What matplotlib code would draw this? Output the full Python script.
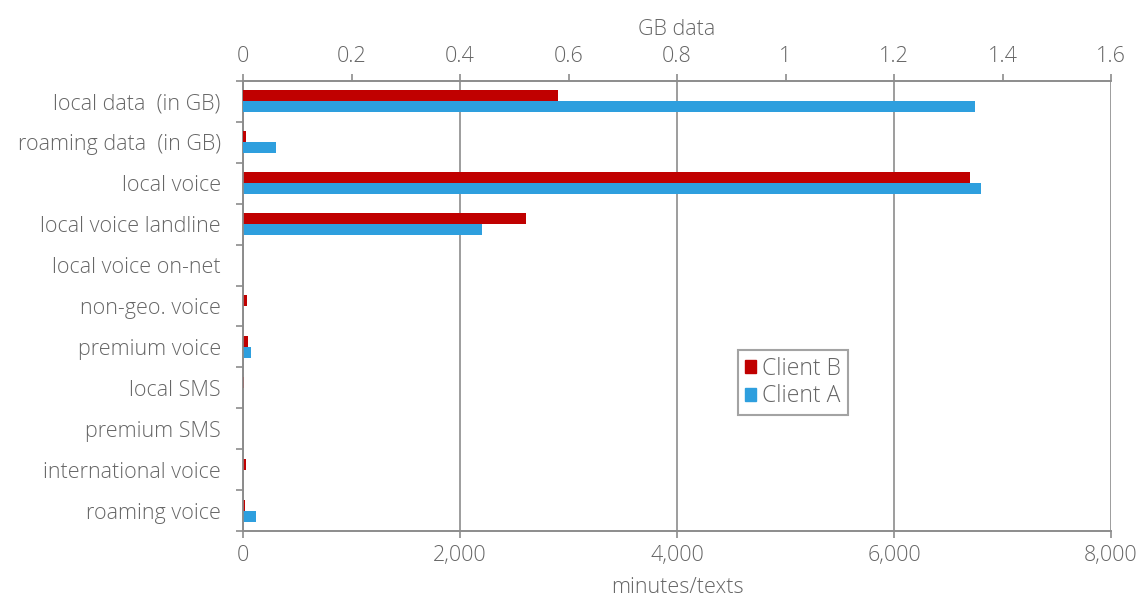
import matplotlib.pyplot as plt
import numpy as np
from matplotlib.ticker import FuncFormatter
from matplotlib.patches import Patch

plt.rcParams['font.family'] = ['Open Sans', 'DejaVu Sans']
plt.rcParams['font.weight'] = 'light'
plt.rcParams['axes.labelweight'] = 'light'

categories = ["local data  (in GB)", "roaming data  (in GB)", "local voice",
              "local voice landline", "local voice on-net", "non-geo. voice",
              "premium voice", "local SMS", "premium SMS",
              "international voice", "roaming voice"]
# first two rows are in GB (top axis), the rest in minutes/texts (bottom axis)
client_b_gb = [0.58, 0.005]
client_a_gb = [1.35, 0.061]
client_b_min = [6700, 2605, 0, 40, 45, 10, 0, 25, 20]
client_a_min = [6800, 2200, 0, 0, 75, 0, 0, 0, 120]

red = '#C00000'
blue = '#2E9FDE'
grey = '#8C8C8C'
text_c = '#666666'
fs = 15.5

fig = plt.figure(figsize=(11.48, 6.04), dpi=100)
ax = fig.add_axes([243/1148, 1 - 531/604, (1111-243)/1148, (531-81)/604])
ax_top = ax.twiny()

y = np.arange(len(categories))
h = 0.27
y_gb = y[:2]
y_min = y[2:]

ax.barh(y_min - h/2, client_b_min, height=h, color=red, zorder=3)
ax.barh(y_min + h/2, client_a_min, height=h, color=blue, zorder=3)
ax_top.barh(y_gb - h/2, client_b_gb, height=h, color=red, zorder=3)
ax_top.barh(y_gb + h/2, client_a_gb, height=h, color=blue, zorder=3)

ax.set_xlim(0, 8000)
ax_top.set_xlim(0, 1.6)
ax.set_ylim(len(categories) - 0.5, -0.5)

ax.set_xticks([0, 2000, 4000, 6000, 8000])
ax.xaxis.set_major_formatter(FuncFormatter(lambda v, p: f"{int(v):,}"))
ax_top.set_xticks([0, 0.2, 0.4, 0.6, 0.8, 1.0, 1.2, 1.4, 1.6])
ax_top.xaxis.set_major_formatter(FuncFormatter(lambda v, p: f"{v:g}"))

ax.set_yticks(y)
ax.set_yticklabels(categories)
ax.set_yticks(np.arange(-0.5, len(categories), 1), minor=True)
ax.tick_params(axis='y', which='major', length=0, pad=16, labelsize=fs, labelcolor=text_c)
ax.tick_params(axis='y', which='minor', length=5, color=grey, width=1.2)
ax.tick_params(axis='x', length=5, color=grey, width=1.2, labelsize=fs, labelcolor=text_c, pad=5)
ax_top.tick_params(axis='x', length=5, color=grey, width=1.2, labelsize=fs, labelcolor=text_c, pad=5)

ax.grid(axis='x', color=grey, linewidth=1.2, zorder=0)
ax.set_axisbelow(True)

for a in (ax, ax_top):
    for s in a.spines.values():
        s.set_color(grey)
        s.set_linewidth(1.2)
    a.spines['right'].set_visible(False)

ax.set_xlabel("minutes/texts", fontsize=fs, color=text_c, labelpad=8)
ax_top.set_xlabel("GB data", fontsize=fs, color=text_c, labelpad=8)

handles = [Patch(color=red, label='Client B'), Patch(color=blue, label='Client A')]
leg = ax.legend(handles=handles, loc='upper left', bbox_to_anchor=(0.570, 0.402),
                frameon=True, fancybox=False, fontsize=16.5, handlelength=0.5,
                handleheight=0.5, handletextpad=0.25, borderpad=0.3, labelspacing=0.15,
                borderaxespad=0)
leg.get_frame().set_edgecolor(grey)
leg.get_frame().set_linewidth(1.5)
for t in leg.get_texts():
    t.set_color(text_c)

fig.savefig('out.png', dpi=100)
